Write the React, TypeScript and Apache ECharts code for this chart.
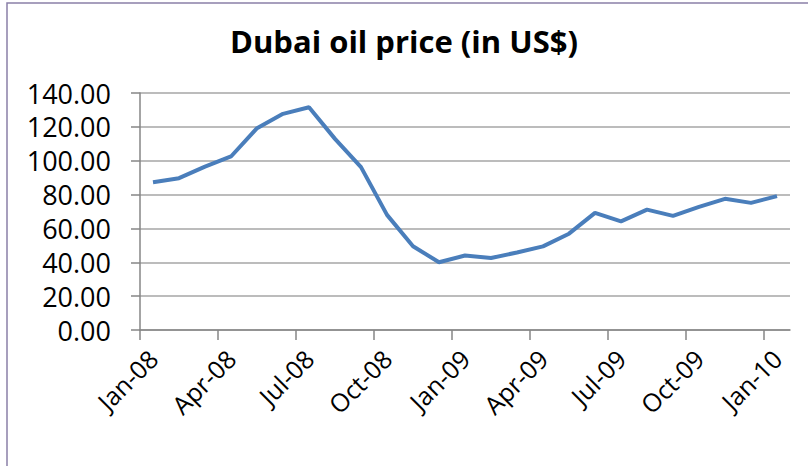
import React, { useEffect, useRef } from "react";
import * as echarts from "echarts";

const months: string[] = [
  "Jan-08", "Feb-08", "Mar-08", "Apr-08", "May-08", "Jun-08", "Jul-08", "Aug-08", "Sep-08", "Oct-08", "Nov-08", "Dec-08",
  "Jan-09", "Feb-09", "Mar-09", "Apr-09", "May-09", "Jun-09", "Jul-09", "Aug-09", "Sep-09", "Oct-09", "Nov-09", "Dec-09",
  "Jan-10",
];

const prices: number[] = [
  87.3, 89.7, 96.5, 102.5, 119.2, 127.7, 131.6, 112.9, 96.2, 68.0, 49.5, 40.0,
  44.0, 42.5, 45.8, 49.4, 56.9, 69.2, 64.2, 71.1, 67.4, 72.7, 77.5, 75.1,
  79.1,
];

const tickBoundaries: number[] = [0, 3, 6, 9, 12, 15, 18, 21, 24];

const titleText = "Dubai oil price (in US$)";

export default function App() {
  const ref = useRef<HTMLDivElement>(null);
  useEffect(() => {
    if (!ref.current) return;
    const chart = echarts.init(ref.current, undefined, { renderer: "svg" });
    chart.setOption({
      animation: false,
      backgroundColor: "#ffffff",
      title: {
        text: titleText,
        left: "center",
        top: 20,
        textStyle: { fontFamily: "Open Sans", fontWeight: "bold", fontSize: 31, color: "#000" },
      },
      graphic: [
        {
          type: "rect",
          shape: { x: 7, y: 3, width: 900, height: 600 },
          style: { fill: "none", stroke: "#8a80a8", lineWidth: 1.5 },
          silent: true,
        },
      ],
      grid: { left: 140, right: 18, top: 93, bottom: 136, containLabel: false },
      xAxis: [
        {
          type: "category",
          data: months,
          boundaryGap: true,
          axisLine: { show: true, lineStyle: { color: "#868686", width: 1.5 } },
          axisTick: { show: false },
          axisLabel: {
            interval: 2,
            rotate: 45,
            margin: 24,
            fontFamily: "Open Sans",
            fontSize: 25,
            color: "#000",
          },
          splitLine: { show: false },
        },
        {
          type: "value",
          min: 0,
          max: months.length,
          position: "bottom",
          axisLine: { show: false },
          axisLabel: { show: false },
          splitLine: { show: false },
          axisTick: {
            show: true,
            length: 10,
            customValues: tickBoundaries,
            lineStyle: { color: "#868686", width: 1.5 },
          },
        },
      ],
      yAxis: {
        type: "value",
        min: 0,
        max: 140,
        interval: 20,
        axisLine: { show: true, lineStyle: { color: "#868686", width: 1.5 } },
        axisTick: { show: true, length: 9, lineStyle: { color: "#868686", width: 1.5 } },
        axisLabel: {
          formatter: (v: number) => v.toFixed(2),
          margin: 29,
          fontFamily: "Open Sans",
          fontSize: 27,
          color: "#000",
        },
        splitLine: { show: true, lineStyle: { color: "#a6a6a6", width: 1.5 } },
      },
      series: [
        {
          type: "line",
          xAxisIndex: 0,
          data: prices,
          symbol: "none",
          lineStyle: { color: "#4a7ebb", width: 4 },
        },
      ],
    });
    return () => chart.dispose();
  }, []);
  return (
    <div
      ref={ref}
      style={{ position: "fixed", left: 0, top: 0, width: 808, height: 466 }}
    />
  );
}
